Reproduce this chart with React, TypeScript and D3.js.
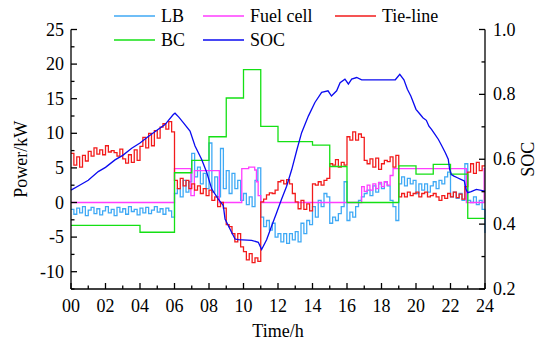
import React from "react";
import * as d3 from "d3";

// ---- data ----------------------------------------------------------------
// LB and tie-line power sampled every 10 minutes (144 samples, 00:00 - 23:50), kW
const lbPower = [
  -1.0, -1.7, -0.8, -1.5, -0.6, -1.9, -1.1, -0.7, -1.6, -0.9, -1.8, -1.2,
  -0.6, -1.5, -1.0, -1.9, -0.7, -1.4, -0.9, -1.7, -0.6, -1.3, -1.0, -1.8,
  -0.8, -1.5, -0.7, -1.6, -1.1, -0.6, -1.4, -0.9, -1.7, -0.8, -1.2, -2.1,
  1.3, 2.0, 0.8, 3.2, 1.5, 3.0, 7.1, 3.7, 5.1, 2.7, 4.2, 2.0,
  8.6, 1.5, 3.7, 0.8, 7.8, 2.0, 4.6, 1.3, 4.2, 2.0, 3.2, 0.3,
  1.3, -0.3, 0.8, -0.6, 3.2, 5.0,
  -2.1, -3.5, -2.6, -4.0, -3.0, -5.0, -4.5, -5.7, -4.5, -5.9, -4.5, -5.4,
  -4.2, -5.7, -3.0, -4.5, -2.6, -3.2, -0.6, -2.1, 0.3, -0.6, 1.3, 0.8,
  -3.0, -2.1, -2.6, -1.6, -0.6, 3.0, -2.6, -1.4, -2.1, -0.6, 0.3, 0.8,
  1.3, 1.8, 1.0, 2.4, 1.5, 2.7, 2.0, 3.0, 2.4, 0.3, -0.6, -2.6,
  2.7, 3.7, 2.4, 3.5, 2.7, 3.2, 1.3, 2.7, 1.8, 2.7, 1.5, 2.4,
  3.0, 2.0, 3.2, 2.7, 3.7, 4.4, 0.8, 1.5, 0.6, 1.3, 0.3, 5.6,
  0.3, 0.0, 0.8, -0.3, 0.3, -1.0,
];
const lbEnd = -4.4;

const tieLinePower = [
  7.1, 5.4, 6.6, 5.1, 6.8, 6.0, 7.4, 6.7, 7.9, 7.0, 7.6, 6.9,
  8.2, 7.3, 7.5, 7.2, 6.7, 7.7, 6.3, 5.7, 6.9, 5.8, 7.6, 6.1,
  8.1, 9.4, 7.9, 10.0, 8.2, 10.4, 9.3, 10.9, 11.4, 10.6, 11.7, 10.2,
  3.2, 2.0, 3.5, 2.4, 3.2, 2.0, 2.7, 1.8, 2.4, 1.3, 2.0, 1.0,
  1.8, 0.3, 0.8, -0.6, 0.0, -0.8, -3.2, -3.5, -4.5, -5.7, -4.5, -6.4,
  -7.1, -8.3, -7.4, -8.7, -8.0, -8.5,
  0.1, 0.5, 1.1, 1.4, 1.3, 1.8, 3.0, 3.2, 2.7, 3.3, 2.7, 1.3,
  0.1, -0.9, 0.3, -1.0, -0.2, -1.2, 2.7, 2.5, 3.0, 2.5, 3.2, 3.5,
  5.6, 5.4, 6.2, 5.1, 5.8, 5.4, 9.5, 9.0, 10.2, 9.0, 9.9, 9.4,
  6.1, 5.6, 6.3, 5.1, 6.4, 4.8, 5.6, 6.1, 5.9, 6.6, 5.1, 6.8,
  0.8, 1.3, 0.8, 1.5, 1.0, 1.3, 1.5, 0.8, 1.3, 1.5, 0.8, 1.0,
  1.3, 0.8, 0.3, 1.0, 0.6, 1.3, 0.8, 1.5, 0.7, 1.2, 0.5, 2.3,
  4.4, 5.6, 4.2, 5.8, 4.6, 5.3,
];

// Fuel cell output: change times (h) and the level held from each time, kW
const fuelCellTimes = [
  0, 6, 6.95, 7.15, 8.6, 9.9, 10.3, 10.65, 10.75, 10.85, 11.0,
  16.85, 17.0, 17.17, 17.33, 17.5, 17.67, 17.83, 18.0, 18.17, 18.33, 18.5, 18.67,
  22.92, 23.95, 24,
];
const fuelCellPower = [
  0, 4.9, 1.0, 4.6, 0, 4.9, 5.1, 4.7, 3.0, 1.0, 0,
  2.3, 1.6, 2.5, 1.8, 2.7, 2.0, 2.9, 2.3, 3.0, 2.5, 3.9, 4.9,
  0, 4.9, 4.9,
];

// BC hourly power, kW (00-01 ... 23-24)
const bcPower = [
  -3.3, -3.3, -3.3, -3.3, -4.3, -4.3, 4.3, 6.1, 9.5, 15.1, 19.2, 11.0,
  8.8, 8.8, 8.3, 5.2, 0, 0, 0, 5.3, 4.1, 5.5, 4.1, -2.3,
];

// Battery state of charge
const socTimes = [
  0, 0.5, 1, 1.58, 2, 2.55, 3, 3.52, 4, 4.48, 5, 5.45, 5.93, 6.03, 6.25, 6.51,
  6.9, 7.19, 7.57, 7.87, 8.16, 8.54, 8.83, 8.93, 9.31, 9.51, 9.7, 10.47, 10.86,
  11.05, 11.34, 11.63, 11.92, 12.2, 12.5, 12.8, 13.1, 13.37, 13.76, 14.14, 14.53,
  14.9, 15.1, 15.4, 15.6, 15.88, 16.08, 16.27, 16.56, 16.85, 18.8, 19.06, 19.3,
  19.5, 19.7, 20.0, 20.2, 20.4, 20.6, 20.75, 20.9, 21.1, 21.3, 21.5, 21.7, 21.87,
  21.95, 22.05, 22.2, 22.4, 22.6, 22.8, 22.9, 23.0, 23.2, 23.5, 24,
];
const socValues = [
  0.505, 0.52, 0.535, 0.562, 0.575, 0.598, 0.612, 0.634, 0.65, 0.67, 0.69, 0.707,
  0.738, 0.742, 0.73, 0.713, 0.687, 0.641, 0.6, 0.559, 0.508, 0.477, 0.457, 0.416,
  0.375, 0.354, 0.352, 0.35, 0.344, 0.322, 0.352, 0.394, 0.435, 0.476, 0.517,
  0.569, 0.63, 0.682, 0.733, 0.775, 0.806, 0.811, 0.795, 0.811, 0.836, 0.847,
  0.832, 0.847, 0.852, 0.845, 0.845, 0.862, 0.845, 0.816, 0.795, 0.754, 0.741,
  0.728, 0.72, 0.702, 0.692, 0.677, 0.661, 0.641, 0.62, 0.6, 0.569, 0.553, 0.548,
  0.543, 0.538, 0.533, 0.507, 0.497, 0.5, 0.507, 0.502,
];

// Axis ticks
const timeTickLabels = ["00", "02", "04", "06", "08", "10", "12", "14", "16", "18", "20", "22", "24"];
const powerTicks = [-10, -5, 0, 5, 10, 15, 20, 25];
const socTickLabels = ["0.2", "0.4", "0.6", "0.8", "1.0"];

const colors = {
  lb: "#3FA9F5",
  fuel: "#FF3DFF",
  tie: "#F21B1B",
  bc: "#14E014",
  soc: "#0A0AF0",
};

// ---- layout --------------------------------------------------------------
const W = 544;
const H = 348;
const X0 = 71;
const X1 = 485;
const Y0 = 289;
const Y1 = 29.5;
const FONT = "'Liberation Serif', 'Times New Roman', serif";

const x = d3.scaleLinear().domain([0, 24]).range([X0, X1]);
const yP = d3.scaleLinear().domain([-12.5, 25]).range([Y0, Y1]);
const yS = d3.scaleLinear().domain([0.2, 1.0]).range([Y0, Y1]);

type Pt = [number, number];

const stepLine = d3
  .line<Pt>()
  .x((d) => x(d[0]))
  .y((d) => yP(d[1]))
  .curve(d3.curveStepAfter);

const socLine = d3
  .line<Pt>()
  .x((d) => x(d[0]))
  .y((d) => yS(d[1]));

function tenMinuteSeries(values: number[], end: number): Pt[] {
  const pts: Pt[] = values.map((v, i) => [i / 6, v] as Pt);
  pts.push([24, end]);
  return pts;
}

const lbPts = tenMinuteSeries(lbPower, lbEnd);
const tiePts = tenMinuteSeries(tieLinePower, tieLinePower[tieLinePower.length - 1]);
const fuelPts: Pt[] = fuelCellTimes.map((t, i) => [t, fuelCellPower[i]] as Pt);
const bcPts: Pt[] = bcPower.map((v, i) => [i, v] as Pt);
bcPts.push([24, bcPower[bcPower.length - 1]]);
const socPts: Pt[] = socTimes.map((t, i) => [t, socValues[i]] as Pt);

const legendItems = [
  { label: "LB", color: colors.lb, x: 114, y: 16 },
  { label: "Fuel cell", color: colors.fuel, x: 203, y: 16 },
  { label: "Tie-line", color: colors.tie, x: 335, y: 16 },
  { label: "BC", color: colors.bc, x: 114, y: 40 },
  { label: "SOC", color: colors.soc, x: 203, y: 40 },
];

export default function App() {
  const hourTicks = d3.range(0, 25);
  const powerMinor = d3.range(-12.5, 25, 5);
  const socMinor = [0.3, 0.5, 0.7, 0.9];
  const lw = 1.3;
  const axisW = 1.3;

  return (
    <svg
      width={W}
      height={H}
      viewBox={`0 0 ${W} ${H}`}
      style={{ position: "absolute", left: 0, top: 0, background: "#fff" }}
      fontFamily={FONT}
    >
      <rect x={0} y={0} width={W} height={H} fill="#fff" />

      {/* series */}
      <g fill="none" strokeWidth={lw} strokeLinejoin="miter">
        <path d={stepLine(lbPts) || ""} stroke={colors.lb} />
        <path d={stepLine(fuelPts) || ""} stroke={colors.fuel} />
        <path d={stepLine(tiePts) || ""} stroke={colors.tie} />
        <path d={stepLine(bcPts) || ""} stroke={colors.bc} />
        <path d={socLine(socPts) || ""} stroke={colors.soc} />
      </g>

      {/* axes */}
      <g stroke="#000" strokeWidth={axisW} fill="none">
        <line x1={X0} y1={Y1} x2={X0} y2={Y0} />
        <line x1={X1} y1={Y1} x2={X1} y2={Y0} />
        <line x1={X0} y1={Y0} x2={X1} y2={Y0} />
        {hourTicks.map((h) => (
          <line key={`xt${h}`} x1={x(h)} x2={x(h)} y1={Y0} y2={Y0 - (h % 2 === 0 ? 6 : 3.5)} />
        ))}
        {powerTicks.map((p) => (
          <line key={`yt${p}`} x1={X0} x2={X0 + 6} y1={yP(p)} y2={yP(p)} />
        ))}
        {powerMinor.map((p) => (
          <line key={`ym${p}`} x1={X0} x2={X0 + 3.5} y1={yP(p)} y2={yP(p)} />
        ))}
        {socTickLabels.map((s) => (
          <line key={`st${s}`} x1={X1} x2={X1 - 6} y1={yS(+s)} y2={yS(+s)} />
        ))}
        {socMinor.map((s) => (
          <line key={`sm${s}`} x1={X1} x2={X1 - 3.5} y1={yS(s)} y2={yS(s)} />
        ))}
      </g>

      {/* tick labels */}
      <g fontSize={18} fill="#000">
        {timeTickLabels.map((t) => (
          <text key={`xl${t}`} x={x(+t)} y={312} textAnchor="middle">
            {t}
          </text>
        ))}
        {powerTicks.map((p) => (
          <text key={`yl${p}`} x={X0 - 7} y={yP(p) + 6} textAnchor="end">
            {p}
          </text>
        ))}
        {socTickLabels.map((s) => (
          <text key={`sl${s}`} x={X1 + 8} y={yS(+s) + 6} textAnchor="start">
            {s}
          </text>
        ))}
      </g>

      {/* axis titles */}
      <g fontSize={18} fill="#000">
        <text x={(X0 + X1) / 2} y={337} textAnchor="middle">
          Time/h
        </text>
        <text
          transform={`translate(27, ${(Y0 + Y1) / 2}) rotate(-90)`}
          textAnchor="middle"
        >
          Power/kW
        </text>
        <text
          transform={`translate(534, ${(Y0 + Y1) / 2}) rotate(-90)`}
          textAnchor="middle"
        >
          SOC
        </text>
      </g>

      {/* legend */}
      <g fontSize={18}>
        {legendItems.map((it) => (
          <g key={it.label}>
            <line
              x1={it.x}
              x2={it.x + 41}
              y1={it.y}
              y2={it.y}
              stroke={it.color}
              strokeWidth={1.5}
            />
            <text x={it.x + 47} y={it.y + 6} fill="#000">
              {it.label}
            </text>
          </g>
        ))}
      </g>
    </svg>
  );
}
